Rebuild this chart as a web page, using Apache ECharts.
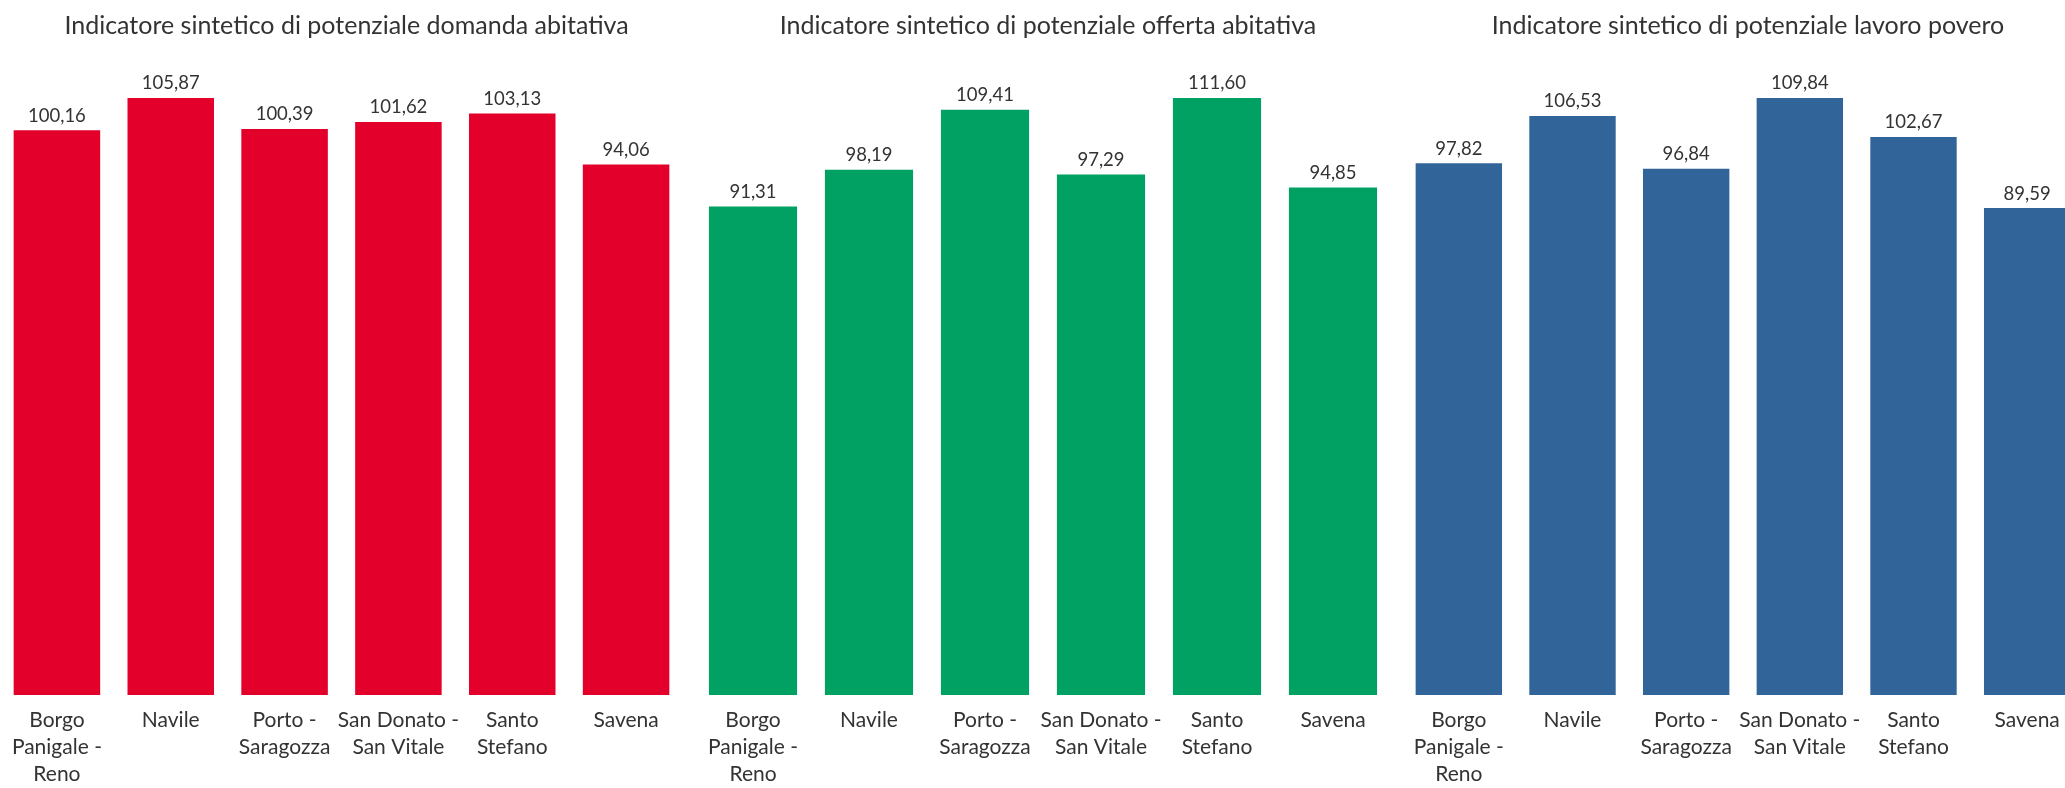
<!DOCTYPE html>
<html>
<head>
<meta charset="utf-8">
<script src="https://cdn.jsdelivr.net/npm/echarts@6/dist/echarts.min.js"></script>
<style>html,body{margin:0;padding:0;background:#fff;overflow:hidden}#c{width:2110px;height:788px}</style>
</head>
<body>
<div id="c"></div>
<script>
const categories = ["Borgo\nPanigale -\nReno", "Navile", "Porto -\nSaragozza", "San Donato -\nSan Vitale", "Santo\nStefano", "Savena"];
const titles = [
  "Indicatore sintetico di potenziale domanda abitativa",
  "Indicatore sintetico di potenziale offerta abitativa",
  "Indicatore sintetico di potenziale lavoro povero"
];
const domanda = [100.16, 105.87, 100.39, 101.62, 103.13, 94.06];
const offerta = [91.31, 98.19, 109.41, 97.29, 111.60, 94.85];
const lavoro = [97.82, 106.53, 96.84, 109.84, 102.67, 89.59];
const colors = ["#E3002B", "#00A163", "#31659A"];

const seriesData = [domanda, offerta, lavoro];
const grids = [
  {left: 0, width: 683, top: 98, bottom: 84},
  {left: 695, width: 696, top: 98, bottom: 84},
  {left: 1402, width: 682, top: 98, bottom: 84}
];
const FONT = "Lato";
const chart = echarts.init(document.getElementById('c'));
const option = {
  backgroundColor: '#fff',
  animation: false,
  title: titles.map((t, i) => ({
    text: t,
    left: grids[i].left + grids[i].width / 2,
    textAlign: 'center',
    top: 8,
    textStyle: {fontFamily: FONT, fontSize: 25, fontWeight: 'normal', color: '#333'}
  })),
  grid: grids,
  xAxis: grids.map((g, i) => ({
    type: 'category', gridIndex: i, data: categories,
    axisLine: {show: false}, axisTick: {show: false},
    axisLabel: {interval: 0, margin: 12, fontFamily: FONT, fontSize: 21, lineHeight: 27, color: '#333', align: 'center'}
  })),
  yAxis: grids.map((g, i) => ({
    type: 'value', gridIndex: i, min: 0, max: v => v.max,
    show: false, splitLine: {show: false}
  })),
  series: seriesData.map((d, i) => ({
    type: 'bar', xAxisIndex: i, yAxisIndex: i, data: d,
    barCategoryGap: '24%',
    itemStyle: {color: colors[i]},
    label: {
      show: true, position: 'top', distance: 5,
      fontFamily: FONT, fontSize: 18.5, color: '#333',
      formatter: p => p.value.toFixed(2).replace('.', ',')
    }
  }))
};
chart.setOption(option);
</script>
</body>
</html>
